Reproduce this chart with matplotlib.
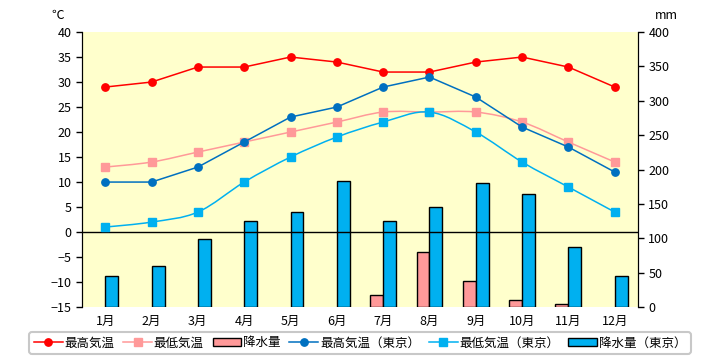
import numpy as np
import matplotlib
matplotlib.use("Agg")
import matplotlib.pyplot as plt
from matplotlib.path import Path
from matplotlib.patches import PathPatch, Patch
from matplotlib.lines import Line2D

plt.rcParams['font.family'] = ['Noto Sans CJK JP', 'DejaVu Sans']

months = ["1月", "2月", "3月", "4月", "5月", "6月", "7月", "8月", "9月", "10月", "11月", "12月"]
tmax = [29, 30, 33, 33, 35, 34, 32, 32, 34, 35, 33, 29]
tmin = [13, 14, 16, 18, 20, 22, 24, 24, 24, 22, 18, 14]
rain = [0, 0, 0, 0, 0, 0, 17, 80, 38, 10, 4, 0]
tokyo_tmax = [10, 10, 13, 18, 23, 25, 29, 31, 27, 21, 17, 12]
tokyo_tmin = [1, 2, 4, 10, 15, 19, 22, 24, 20, 14, 9, 4]
tokyo_rain = [45, 60, 99, 125, 138, 184, 125, 146, 180, 164, 88, 45]

legend_labels = ["最高気温", "最低気温", "降水量", "最高気温（東京）", "最低気温（東京）", "降水量（東京）"]

RED = "#FF0000"
PINK = "#FF9999"
BLUE = "#0070C0"
LBLUE = "#00B0F0"


def smooth_path(x, y):
    # Bezier (Catmull-Rom) curve through the points, like Excel's smoothed line
    pts = np.column_stack([x, y]).astype(float)
    n = len(pts)
    verts = [pts[0]]
    codes = [Path.MOVETO]
    for i in range(n - 1):
        p0 = pts[max(i - 1, 0)]
        p1 = pts[i]
        p2 = pts[i + 1]
        p3 = pts[min(i + 2, n - 1)]
        c1 = p1 + (p2 - p0) / 6.0
        c2 = p2 - (p3 - p1) / 6.0
        verts += [c1, c2, p2]
        codes += [Path.CURVE4] * 3
    return Path(verts, codes)


fig = plt.figure(figsize=(7.2, 3.6), dpi=100)
ax = fig.add_axes([0.114, 0.147, 0.772, 0.764])
ax2 = ax.twinx()

x = np.arange(len(months))

# bars on the right axis (background)
ax2.set_zorder(0)
ax.set_zorder(1)
ax.patch.set_visible(False)
ax2.patch.set_visible(True)
ax2.set_facecolor("#FFFFCC")
bw = 0.28
ax2.bar(x - bw / 2, rain, width=bw, color=PINK, edgecolor="black",
        linewidth=[1.0 if v > 0 else 0 for v in rain])
ax2.bar(x + bw / 2, tokyo_rain, width=bw, color=LBLUE, edgecolor="black", linewidth=1.0)
ax2.set_ylim(0, 400)
ax2.set_yticks(range(0, 401, 50))

# temperature lines
ms = 5.3
ax.axhline(0, color="black", lw=1.0, zorder=1)
ax.plot(x, tmax, color=RED, lw=1.1, marker="o", ms=ms, zorder=3)
ax.add_patch(PathPatch(smooth_path(x, tmin), fill=False, edgecolor=PINK, lw=1.1, zorder=3))
ax.plot(x, tmin, ls="none", color=PINK, marker="s", ms=ms, zorder=3)
ax.plot(x, tokyo_tmax, color=BLUE, lw=1.1, marker="o", ms=ms, zorder=4)
ax.add_patch(PathPatch(smooth_path(x, tokyo_tmin), fill=False, edgecolor=LBLUE, lw=1.1, zorder=4))
ax.plot(x, tokyo_tmin, ls="none", color=LBLUE, marker="s", ms=ms, zorder=4)

ax.set_xlim(-0.5, 11.5)
ax.set_ylim(-15, 40)
ax.set_yticks(range(-15, 41, 5))
ax.set_xticks(x)
ax.set_xticklabels(months)

for a in (ax, ax2):
    a.spines["top"].set_visible(False)
    a.spines["bottom"].set_visible(False)
    a.spines["left"].set_color("black")
    a.spines["right"].set_color("black")
    a.tick_params(labelsize=9, length=4, width=1, colors="black")
ax.tick_params(axis="x", length=0, pad=6)

fig.text(0.08, 0.958, "℃", fontsize=9, ha="center", va="center")
fig.text(0.925, 0.958, "mm", fontsize=9, ha="center", va="center")

handles = [
    Line2D([], [], color=RED, lw=1.1, marker="o", ms=ms),
    Line2D([], [], color=PINK, lw=1.1, marker="s", ms=ms),
    Patch(facecolor=PINK, edgecolor="black", linewidth=1.0),
    Line2D([], [], color=BLUE, lw=1.1, marker="o", ms=ms),
    Line2D([], [], color=LBLUE, lw=1.1, marker="s", ms=ms),
    Patch(facecolor=LBLUE, edgecolor="black", linewidth=1.0),
]
leg = fig.legend(handles, legend_labels, loc="lower center", bbox_to_anchor=(0.5, 0.0),
                 ncol=6, fontsize=9, frameon=True, fancybox=True, edgecolor="#BBBBBB",
                 handlelength=2.3, handleheight=0.5, handletextpad=0.15, columnspacing=0.7,
                 borderpad=0.35)
leg.get_frame().set_linewidth(1.5)

fig.savefig("out.png", dpi=100)
